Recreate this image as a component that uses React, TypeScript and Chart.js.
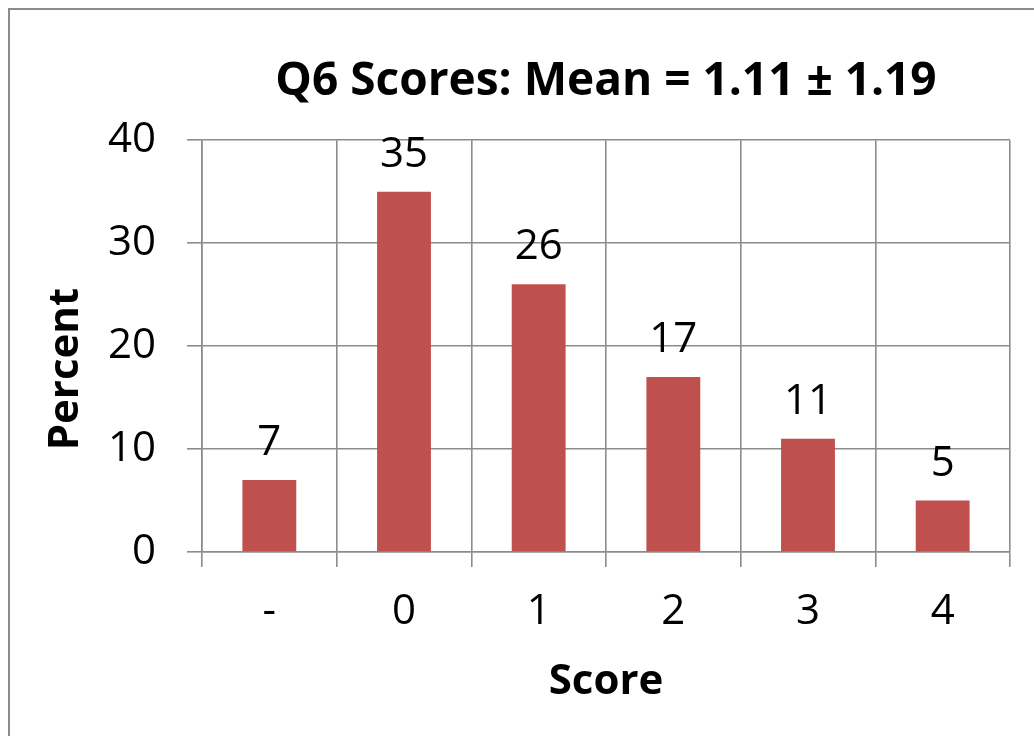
import React, { useEffect, useRef } from "react";
import { Chart, registerables } from "chart.js";

Chart.register(...registerables);

const categories = ["-", "0", "1", "2", "3", "4"];
const percentValues = [7, 35, 26, 17, 11, 5];
const yTicks = [0, 10, 20, 30, 40];
const titleText = "Q6 Scores: Mean = 1.11 ± 1.19";
const xTitle = "Score";
const yTitle = "Percent";

const FONT = "'Open Sans', 'DejaVu Sans', sans-serif";
const GRID = "#8c8c8c";
const BAR = "#C0504D";

const labelPlugin = {
  id: "valueLabels",
  afterDatasetsDraw(chart: any) {
    const { ctx, chartArea } = chart;
    const meta = chart.getDatasetMeta(0);
    ctx.save();
    ctx.fillStyle = "#000";
    ctx.font = `42px ${FONT}`;
    ctx.textAlign = "center";
    ctx.textBaseline = "alphabetic";
    meta.data.forEach((el: any, i: number) => {
      ctx.fillText(String(percentValues[i]), el.x, el.y - 25);
    });
    ctx.restore();

    ctx.save();
    ctx.fillStyle = "#000";
    ctx.font = `bold 42px ${FONT}`;
    ctx.textAlign = "center";
    ctx.textBaseline = "middle";
    ctx.translate(66, (chartArea.top + chartArea.bottom) / 2 + 23);
    ctx.rotate(-Math.PI / 2);
    ctx.fillText(yTitle, 0, 0);
    ctx.restore();
  },
};

export default function App() {
  const ref = useRef<HTMLCanvasElement | null>(null);

  useEffect(() => {
    if (!ref.current) return;
    const chart = new Chart(ref.current, {
      type: "bar",
      data: {
        labels: categories,
        datasets: [
          {
            data: percentValues,
            backgroundColor: BAR,
            borderWidth: 0,
            barPercentage: 0.4,
            categoryPercentage: 1,
          },
        ],
      },
      options: {
        animation: false,
        responsive: false,
        maintainAspectRatio: false,
        layout: { padding: { left: 0, right: 24, top: 0, bottom: 0 } },
        plugins: {
          legend: { display: false },
          tooltip: { enabled: false },
          title: {
            display: true,
            text: titleText,
            fullSize: false,
            color: "#000",
            font: { family: FONT, size: 46, weight: "bold" },
            padding: { top: 54, bottom: 31 },
          },
        },
        scales: {
          x: {
            type: "category",
            offset: true,
            grid: {
              display: true,
              offset: true,
              color: GRID,
              lineWidth: 1.6,
              tickLength: 15,
              drawTicks: true,
            },
            border: { display: true, color: GRID, width: 1.6 },
            ticks: {
              color: "#000",
              font: { family: FONT, size: 42 },
              padding: 20,
              maxRotation: 0,
            },
            title: {
              display: true,
              text: xTitle,
              color: "#000",
              font: { family: FONT, size: 42, weight: "bold" },
              padding: { top: 0, bottom: 29 },
            },
            afterFit: (scale: any) => {
              scale.height = 184;
            },
          },
          y: {
            min: 0,
            max: 40,
            afterBuildTicks: (scale: any) => {
              scale.ticks = yTicks.map((v) => ({ value: v }));
            },
            grid: {
              color: GRID,
              lineWidth: 1.6,
              tickLength: 15,
              drawTicks: true,
            },
            border: { display: true, color: GRID, width: 1.6 },
            ticks: {
              color: "#000",
              font: { family: FONT, size: 42 },
              padding: 31,
            },
            title: { display: false },
            afterFit: (scale: any) => {
              scale.width = 202;
            },
          },
        },
      },
      plugins: [labelPlugin],
    });
    return () => chart.destroy();
  }, []);

  return (
    <div
      style={{
        position: "fixed",
        left: 0,
        top: 0,
        width: 1034,
        height: 736,
        overflow: "hidden",
        background: "#fff",
      }}
    >
      <div
        style={{
          position: "absolute",
          left: 8,
          top: 8,
          width: 1200,
          height: 900,
          borderTop: "2px solid #8c8c8c",
          borderLeft: "2px solid #8c8c8c",
        }}
      />
      <canvas
        ref={ref}
        width={1034}
        height={736}
        style={{ position: "absolute", left: 0, top: 0, width: 1034, height: 736 }}
      />
    </div>
  );
}
